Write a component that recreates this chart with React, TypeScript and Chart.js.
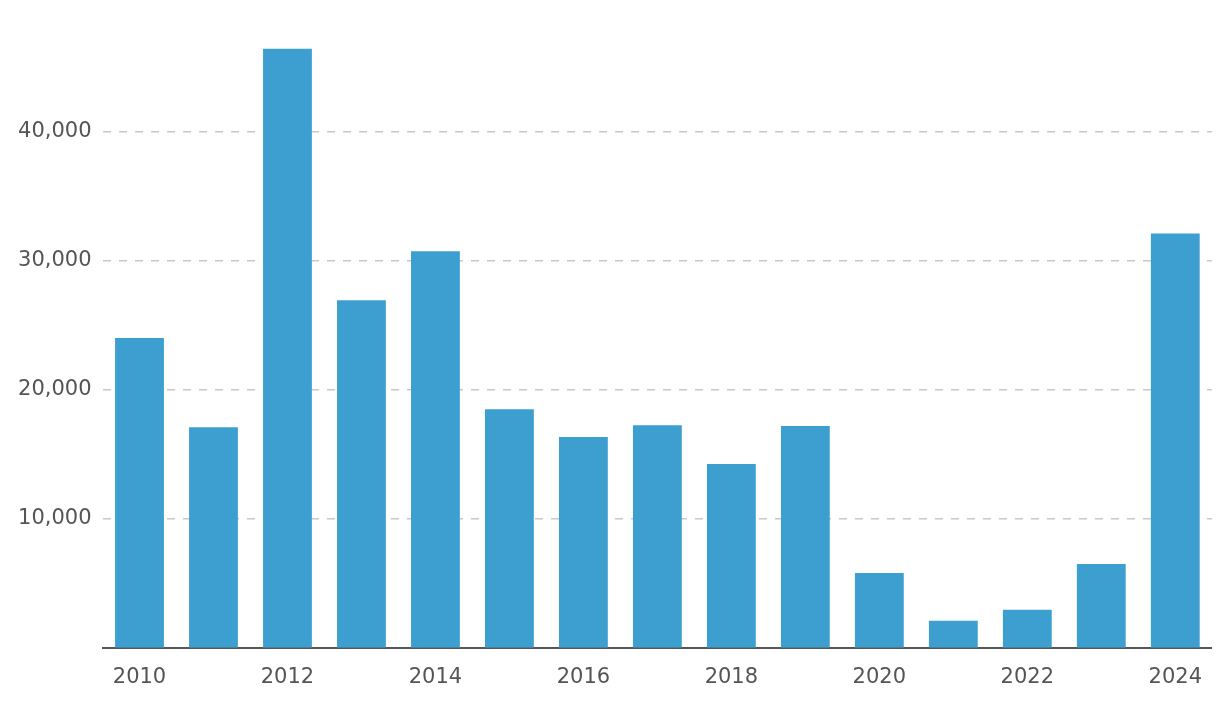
import React, { useEffect, useRef } from "react";
import { Chart, registerables } from "chart.js";

Chart.register(...registerables);

const years: string[] = ["2010","2011","2012","2013","2014","2015","2016","2017","2018","2019","2020","2021","2022","2023","2024"];
const values: number[] = [24000, 17100, 46420, 26930, 30720, 18490, 16330, 17250, 14240, 17180, 5800, 2090, 2940, 6500, 32110];
const yTicks: number[] = [10000, 20000, 30000, 40000];

export default function App() {
  const ref = useRef<HTMLCanvasElement | null>(null);
  useEffect(() => {
    if (!ref.current) return;
    const font = { family: "'DejaVu Sans', sans-serif", size: 21 };
    const chart = new Chart(ref.current, {
      type: "bar",
      data: {
        labels: years,
        datasets: [{ data: values, backgroundColor: "#3d9fd0", barPercentage: 0.66, categoryPercentage: 1 }],
      },
      options: {
        animation: false,
        responsive: true,
        maintainAspectRatio: false,
        layout: { padding: { top: 0, right: 0, left: 0, bottom: 0 } },
        plugins: { legend: { display: false }, tooltip: { enabled: false } },
        scales: {
          x: {
            grid: { display: false, drawTicks: false },
            border: { display: true, color: "#555", width: 2 },
            ticks: {
              autoSkip: false,
              maxRotation: 0,
              color: "#555",
              font,
              padding: 17,
              callback: (_v: any, i: number) => (i % 2 === 0 ? years[i] : ""),
            },
          },
          y: {
            min: 0,
            max: 47750,
            afterFit: (s: any) => { s.width = 94.5; },
            afterBuildTicks: (s: any) => { s.ticks = yTicks.map((v) => ({ value: v })); },
            border: { display: false, dash: [8, 8] },
            grid: { color: "#c8c8c8", lineWidth: 1.5, drawTicks: false },
            ticks: {
              color: "#555",
              font,
              padding: 11,
              callback: (v: any) => Number(v).toLocaleString("en-US"),
            },
          },
        },
      },
    });
    return () => chart.destroy();
  }, []);
  return (
    <div style={{ width: 1211, height: 699, position: "relative" }}>
      <canvas ref={ref} />
    </div>
  );
}
